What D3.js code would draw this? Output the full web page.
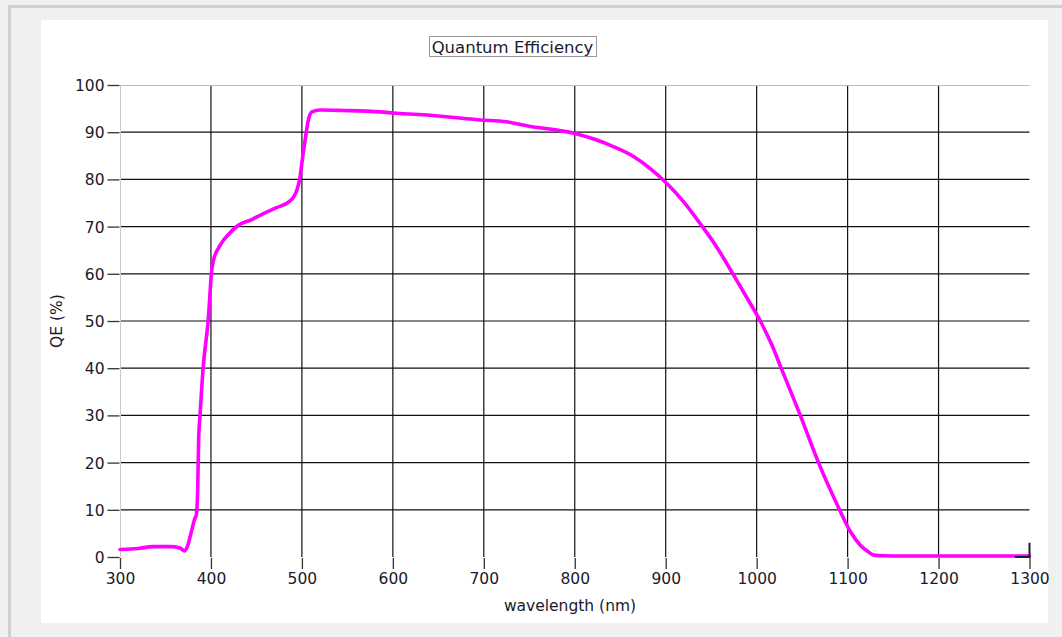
<!DOCTYPE html>
<html>
<head>
<meta charset="utf-8">
<script src="https://cdn.jsdelivr.net/npm/d3@7"></script>
<style>
  html, body { margin: 0; padding: 0; background: #f0f0f0; }
  svg { display: block; }
  text { font-family: "DejaVu Sans", Verdana, sans-serif; fill: #1a1a2a; }
</style>
</head>
<body>
<svg id="chart" width="1062" height="637"></svg>
<script>
const chartTitle = "Quantum Efficiency";
const xTitle = "wavelength (nm)";
const yTitle = "QE (%)";
const xTicks = [300, 400, 500, 600, 700, 800, 900, 1000, 1100, 1200, 1300];
const yTicks = [0, 10, 20, 30, 40, 50, 60, 70, 80, 90, 100];

const wavelength = [300, 320, 336, 355, 366, 371, 374, 378, 382, 384, 385.5, 386.5, 388, 391.5, 397, 401, 403, 410, 420, 430, 445, 455, 472, 486, 491, 495, 498, 501, 504, 507, 511, 520, 545, 586, 604, 641, 696, 725, 751, 775, 799, 822, 843, 865, 883, 901, 920, 938, 956, 975, 993, 1004, 1017, 1027, 1048, 1068, 1090, 1103, 1114, 1122, 1129, 1140, 1158, 1200, 1250, 1284, 1300];
const qe =       [1.6, 1.8, 2.2, 2.2, 1.9, 1.3, 2.2, 5.0, 8.0, 9.0, 15, 25, 30, 40.3, 50.2, 61.0, 63.0, 66.0, 68.5, 70.3, 71.5, 72.5, 74.0, 75.3, 76.3, 78.0, 80.5, 85.0, 89.0, 92.5, 94.3, 94.7, 94.6, 94.3, 94.0, 93.6, 92.6, 92.2, 91.2, 90.6, 89.8, 88.5, 86.9, 84.8, 82.3, 79.2, 75.2, 70.6, 65.7, 59.6, 53.7, 50.0, 44.8, 40.0, 30.0, 20.0, 10.5, 5.4, 2.5, 1.2, 0.4, 0.25, 0.2, 0.2, 0.2, 0.2, 0.2];

const svg = d3.select("#chart");
const W = 1062, H = 637;

// outer frame
svg.append("rect").attr("x", 0).attr("y", 0).attr("width", W).attr("height", H).attr("fill", "#f0f0f0");
svg.append("rect").attr("x", 9.5).attr("y", 6.5).attr("width", W + 20).attr("height", H + 20)
  .attr("fill", "none").attr("stroke", "#cfcfcf").attr("stroke-width", 3);
svg.append("rect").attr("x", 41).attr("y", 20).attr("width", 1007).attr("height", 603).attr("fill", "#ffffff");

const x = d3.scaleLinear().domain([300, 1300]).range([120, 1029.5]);
const y = d3.scaleLinear().domain([0, 100]).range([557, 85]);

// grid
const grid = svg.append("g");
grid.selectAll(".vg").data(xTicks.filter(d => d > 300 && d < 1300)).join("line")
  .attr("x1", d => x(d)).attr("x2", d => x(d)).attr("y1", y(100)).attr("y2", y(0))
  .attr("stroke", "#111").attr("stroke-width", 1.2);
grid.selectAll(".hg").data(yTicks.filter(d => d > 0 && d < 100)).join("line")
  .attr("x1", x(300)).attr("x2", x(1300)).attr("y1", d => y(d)).attr("y2", d => y(d))
  .attr("stroke", "#111").attr("stroke-width", 1.2);
// plot border (top & left, light)
grid.append("line").attr("x1", x(300)).attr("x2", x(1300)).attr("y1", y(100) + 0.5).attr("y2", y(100) + 0.5)
  .attr("stroke", "#bdbdbd").attr("stroke-width", 1);
grid.append("line").attr("x1", x(300) + 0.5).attr("x2", x(300) + 0.5).attr("y1", y(100)).attr("y2", y(0))
  .attr("stroke", "#c8c8c8").attr("stroke-width", 1);

// axes
const yAxis = d3.axisLeft(y).tickValues(yTicks).tickSize(12).tickPadding(3).tickFormat(d3.format("d"));
const gy = svg.append("g").attr("transform", `translate(${x(300) - 0.5},0)`).call(yAxis);
gy.select(".domain").remove();
gy.selectAll(".tick line").attr("stroke", "#333").attr("stroke-width", 1.3);
gy.selectAll(".tick text").style("font-size", "15.5px").attr("fill", "#1a1a2a").attr("dy", "0.36em");

const xAxis = d3.axisBottom(x).tickValues(xTicks).tickSize(11).tickPadding(4).tickFormat(d3.format("d"));
const gx = svg.append("g").attr("transform", `translate(0,${y(0) + 1})`).call(xAxis);
gx.select(".domain").remove();
gx.selectAll(".tick line").attr("stroke", "#333").attr("stroke-width", 1.3);
gx.selectAll(".tick text").style("font-size", "15.5px").attr("fill", "#1a1a2a");

// curve
const line = d3.line().x((d, i) => x(wavelength[i])).y((d, i) => y(qe[i])).curve(d3.curveMonotoneX);
svg.append("path").datum(qe).attr("d", line)
  .attr("fill", "none").attr("stroke", "#ff00ff").attr("stroke-width", 3.6)
  .attr("stroke-linejoin", "round").attr("stroke-linecap", "round");

// cursor mark at end of axis
svg.append("path")
  .attr("d", `M${x(1284)},${y(0)}H${x(1300)}V${y(3)}`)
  .attr("fill", "none").attr("stroke", "#1a1a3a").attr("stroke-width", 2);

// titles
const tg = svg.append("g");
const tt = tg.append("text").attr("x", 512.5).attr("y", 53).attr("text-anchor", "middle")
  .style("font-size", "16.5px").text(chartTitle);
const bb = tt.node().getBBox();
tg.insert("rect", "text").attr("x", Math.round(bb.x) - 2.5).attr("y", 36.5)
  .attr("width", Math.round(bb.width) + 5).attr("height", 20)
  .attr("fill", "none").attr("stroke", "#333").attr("stroke-width", 1).attr("stroke-dasharray", "1,1");

svg.append("text").attr("x", 570).attr("y", 611).attr("text-anchor", "middle")
  .style("font-size", "15.5px").text(xTitle);
svg.append("text").attr("transform", "translate(62,321) rotate(-90)").attr("text-anchor", "middle")
  .style("font-size", "15.5px").text(yTitle);
</script>
</body>
</html>
